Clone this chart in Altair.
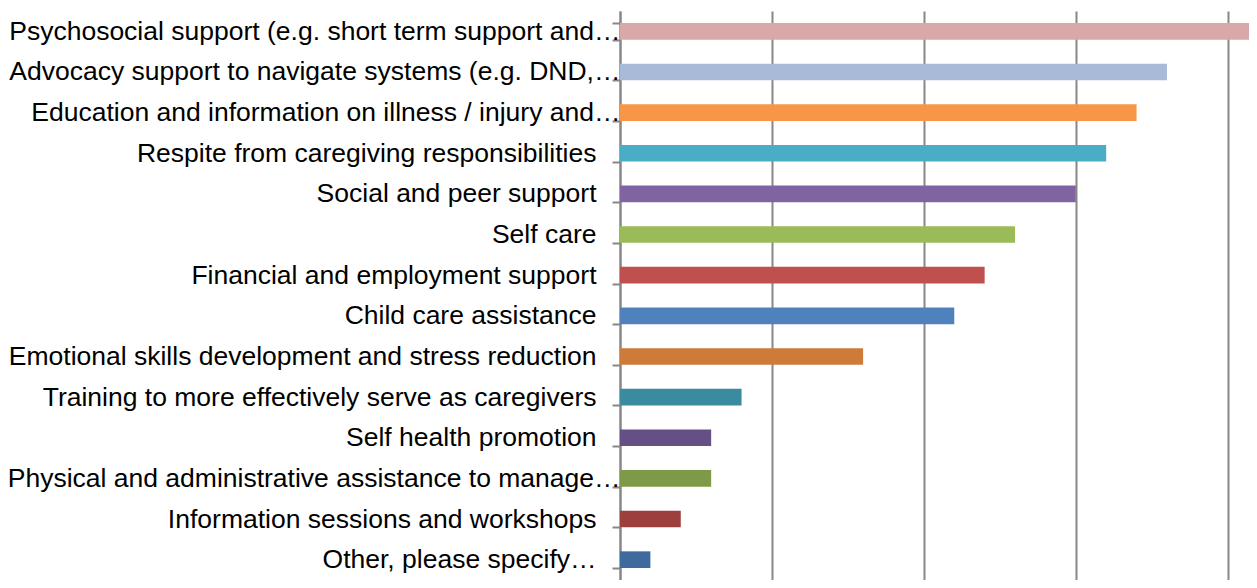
import altair as alt
import pandas as pd

categories = [
    "Psychosocial support (e.g. short term support and…",
    "Advocacy support to navigate systems (e.g. DND,…",
    "Education and information on illness / injury and…",
    "Respite from caregiving responsibilities",
    "Social and peer support",
    "Self care",
    "Financial and employment support ",
    "Child care assistance",
    "Emotional skills development and stress reduction",
    "Training to more effectively serve as caregivers",
    "Self health promotion",
    "Physical and administrative assistance to manage…",
    "Information sessions and workshops",
    "Other, please specify…",
]
values = [21, 18, 17, 16, 15, 13, 12, 11, 8, 4, 3, 3, 2, 1]
colors = [
    "#D9A9A9", "#A9BAD8", "#F79646", "#4BACC6", "#8064A2", "#9BBB59", "#C0504D",
    "#4F81BD", "#CD7B38", "#3A8BA0", "#654F85", "#7E9A48", "#9D403D", "#3F6A9E",
]
grid_values = [0, 5, 10, 15, 20]

df = pd.DataFrame({"category": categories, "value": values})

gray = "#878787"

chart = alt.Chart(df).mark_bar(clip=True).encode(
    y=alt.Y(
        "category:N",
        sort=categories,
        title=None,
        scale=alt.Scale(paddingInner=0.59, paddingOuter=0.295),
        axis=alt.Axis(
            domainColor=gray,
            domainWidth=2,
            tickColor=gray,
            tickWidth=2,
            tickSize=8,
            tickBand="extent",
            labelFont="Liberation Sans",
            labelFontSize=26.5,
            labelColor="#000000",
            labelLimit=700,
            labelPadding={
                "condition": {
                    "test": "indexof(datum.label, '…') >= 0 && indexof(datum.label, 'Other') < 0",
                    "value": -8,
                },
                "value": 16,
            },
            grid=False,
        ),
    ),
    x=alt.X(
        "value:Q",
        title=None,
        scale=alt.Scale(domain=[0, 20.7], nice=False, zero=True),
        axis=alt.Axis(
            values=grid_values,
            labels=False,
            ticks=False,
            domain=False,
            grid=True,
            gridColor=gray,
            gridWidth=2,
        ),
    ),
    color=alt.Color("category:N", scale=alt.Scale(domain=categories, range=colors), legend=None),
).properties(
    width=629,
    height=569,
    autosize=alt.AutoSizeParams(type="none"),
    padding={"left": 612, "top": 3, "right": 0, "bottom": 0},
).configure_view(stroke=None)

chart.save("out.html", embed_options={"renderer": "svg", "actions": False})
